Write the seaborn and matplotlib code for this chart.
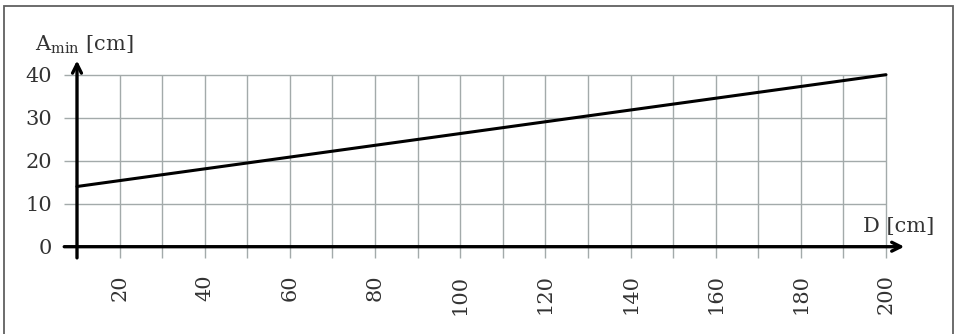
import matplotlib
matplotlib.use("Agg")
import matplotlib.pyplot as plt
import seaborn as sns
import pandas as pd
from matplotlib.patches import Rectangle

# data
d_values = [10, 200]
a_min_values = [14, 40]
x_ticks = [20, 40, 60, 80, 100, 120, 140, 160, 180, 200]
x_grid = [20, 30, 40, 50, 60, 70, 80, 90, 100, 110, 120, 130, 140, 150, 160, 170, 180, 190, 200]
y_ticks = [0, 10, 20, 30, 40]
y_grid = [10, 20, 30, 40]
x_label = "D [cm]"
y_label = r"$\mathrm{A_{min}}$ [cm]"

sns.set_theme(style="white")
plt.rcParams["font.family"] = ["DejaVu Serif"]
plt.rcParams["mathtext.fontset"] = "dejavuserif"

W, H = 959, 334
fig = plt.figure(figsize=(W / 100, H / 100), dpi=100)
fig.patch.set_facecolor("white")

# axes placed so that x 10..200 -> px 77..886, y 0..40 -> px 246.7..74.7
ax = fig.add_axes([77 / W, (H - 246.7) / H, (886 - 77) / W, (246.7 - 74.7) / H])
ax.set_xlim(10, 200)
ax.set_ylim(0, 40)
ax.set_facecolor("none")
for s in ax.spines.values():
    s.set_visible(False)

grid_color = "#a3aaaa"
ax.vlines(x_grid, -2.6, 40, colors=grid_color, lw=1.0, clip_on=False, zorder=1)
ax.hlines(y_grid, 7, 200, colors=grid_color, lw=1.0, clip_on=False, zorder=1)

# axes arrows
ax.annotate("", xy=(204.3, 0), xytext=(7, 0), annotation_clip=False,
            arrowprops=dict(arrowstyle="->", lw=2.4, color="black", mutation_scale=16,
                            shrinkA=0, shrinkB=0), zorder=3)
ax.annotate("", xy=(10, 43.3), xytext=(10, -2.6), annotation_clip=False,
            arrowprops=dict(arrowstyle="->", lw=2.4, color="black", mutation_scale=16,
                            shrinkA=0, shrinkB=0), zorder=3)

df = pd.DataFrame({"D": d_values, "A": a_min_values})
sns.lineplot(data=df, x="D", y="A", ax=ax, color="black", lw=2.2, zorder=4, clip_on=False)
ax.set_xlabel("")
ax.set_ylabel("")

text_color = "#333333"
fs = 15
ax.set_xticks(x_ticks)
ax.set_xticklabels([str(v) for v in x_ticks], rotation=90, color=text_color, fontsize=fs)
ax.set_yticks(y_ticks)
ax.set_yticklabels([str(v) for v in y_ticks], color=text_color, fontsize=fs)
ax.tick_params(axis="x", length=0, pad=20)
ax.tick_params(axis="y", length=0, pad=18)

fig.text(35 / W, 1 - 51 / H, y_label, ha="left", va="baseline", fontsize=fs, color=text_color)
fig.text(863 / W, 1 - 232 / H, x_label, ha="left", va="baseline", fontsize=fs, color=text_color)

fig.patches.append(Rectangle((3.5 / W, -0.1), (953 - 3.5) / W, 1.1 - 6 / H,
                             transform=fig.transFigure, fill=False, edgecolor="#606060",
                             lw=1.3, zorder=0))

fig.savefig("out.png", dpi=100)
